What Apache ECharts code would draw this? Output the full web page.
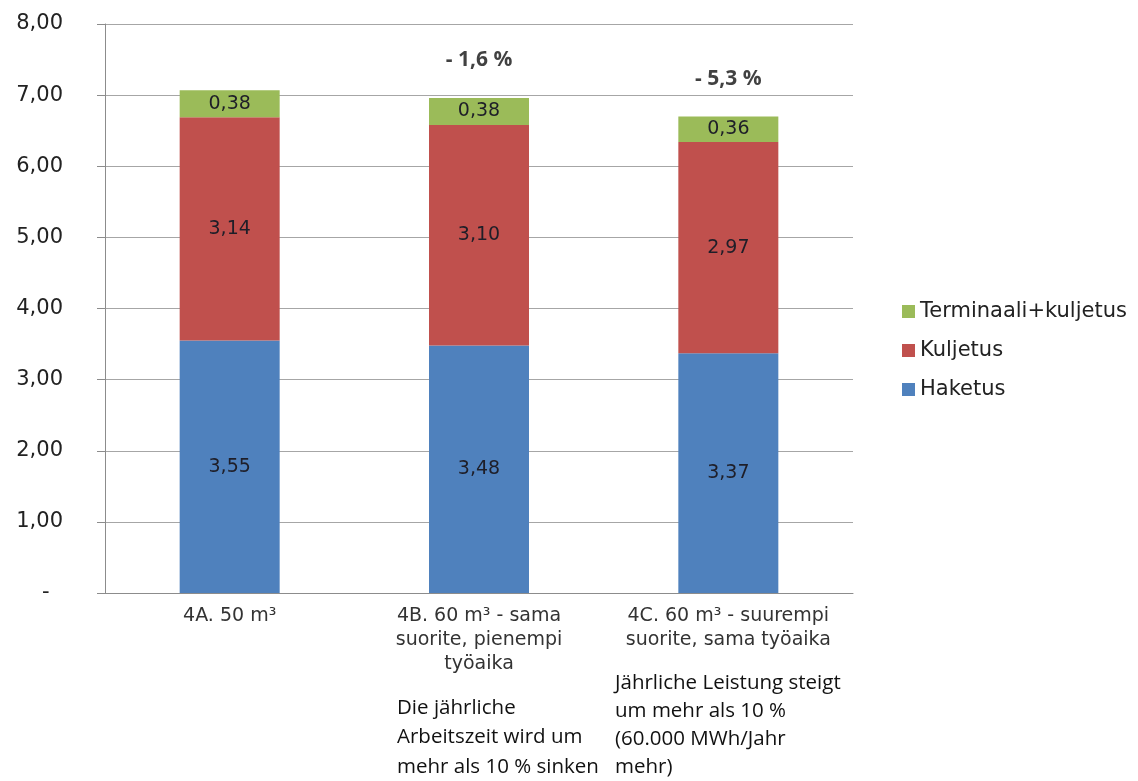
<!DOCTYPE html>
<html>
<head>
<meta charset="utf-8">
<script src="https://cdn.jsdelivr.net/npm/echarts@6/dist/echarts.min.js"></script>
<style>
  html, body { margin: 0; padding: 0; background: #fff; }
  #chart { width: 1138px; height: 781px; }
</style>
</head>
<body>
<div id="chart"></div>
<script>
const categories = [
  "4A. 50 m³",
  "4B. 60 m³ - sama\nsuorite, pienempi\ntyöaika",
  "4C. 60 m³ - suurempi\nsuorite, sama työaika",
];
const haketus = [3.55, 3.48, 3.37];
const kuljetus = [3.14, 3.10, 2.97];
const terminaali = [0.38, 0.38, 0.36];
const changes = ["", "- 1,6 %", "- 5,3 %"];
const notes = [
  "Die jährliche\nArbeitszeit wird um\nmehr als 10 % sinken",
  "Jährliche Leistung steigt\num mehr als 10 %\n(60.000 MWh/Jahr\nmehr)",
];

const chart = echarts.init(document.getElementById("chart"));
const font = "'DejaVu Sans', sans-serif";
const noteFont = "'Open Sans', sans-serif";
const comma = (v) => v.toFixed(2).replace(".", ",");

const totals = haketus.map((v, i) => v + kuljetus[i] + terminaali[i]);

const barLabel = {
  show: true,
  position: "inside",
  color: "#1e1e28",
  fontSize: 19,
  fontFamily: font,
  formatter: (p) => comma(p.value),
};

const option = {
  animation: false,
  textStyle: { fontFamily: font },
  grid: { left: 105, right: 285, top: 24, bottom: 188 },
  legend: {
    orient: "vertical",
    left: 897,
    top: 296,
    itemWidth: 13,
    itemHeight: 13,
    itemGap: 18,
    icon: "rect",
    textStyle: { fontSize: 21, color: "#222", fontFamily: font },
    data: ["Terminaali+kuljetus", "Kuljetus", "Haketus"],
  },
  xAxis: {
    type: "category",
    data: categories,
    axisLine: { lineStyle: { color: "#8c8c8c" } },
    axisTick: { length: 6, lineStyle: { color: "#8c8c8c" } },
    axisLabel: {
      color: "#333",
      fontSize: 19,
      fontFamily: font,
      lineHeight: 24,
      margin: 11,
      interval: 0,
    },
  },
  yAxis: {
    type: "value",
    min: 0,
    max: 8,
    interval: 1,
    axisLine: { show: true, lineStyle: { color: "#8c8c8c" } },
    axisTick: { show: true, length: 8, lineStyle: { color: "#8c8c8c" } },
    splitLine: { lineStyle: { color: "#a6a6a6" } },
    axisLabel: {
      color: "#222",
      fontSize: 21,
      fontFamily: font,
      margin: 42,
      formatter: (v) => (v === 0 ? "-  " : comma(v)),
    },
  },
  series: [
    {
      name: "Haketus",
      type: "bar",
      stack: "total",
      barWidth: 100,
      itemStyle: { color: "#4f81bd" },
      label: barLabel,
      data: haketus,
    },
    {
      name: "Kuljetus",
      type: "bar",
      stack: "total",
      itemStyle: { color: "#c0504d" },
      label: barLabel,
      data: kuljetus,
    },
    {
      name: "Terminaali+kuljetus",
      type: "bar",
      stack: "total",
      itemStyle: { color: "#9bbb59" },
      label: barLabel,
      data: terminaali,
    },
    {
      name: "change",
      type: "scatter",
      symbolSize: 0,
      silent: true,
      label: {
        show: true,
        position: "top",
        distance: 27,
        color: "#111",
        fontWeight: "bold",
        fontSize: 21,
        fontFamily: noteFont,
        formatter: (p) => changes[p.dataIndex],
      },
      data: totals,
    },
  ],
  graphic: [
    {
      type: "text",
      left: 397,
      top: 693,
      style: {
        text: notes[0],
        font: "20.5px 'Open Sans', sans-serif",
        lineHeight: 29.5,
        fill: "#111",
      },
    },
    {
      type: "text",
      left: 615,
      top: 669,
      style: {
        text: notes[1],
        font: "20.5px 'Open Sans', sans-serif",
        lineHeight: 28,
        fill: "#111",
      },
    },
  ],
};

chart.setOption(option);
</script>
</body>
</html>
